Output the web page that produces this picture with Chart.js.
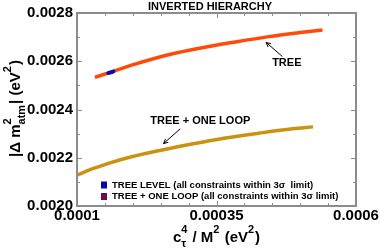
<!DOCTYPE html>
<html>
<head>
<meta charset="utf-8">
<script src="https://cdn.jsdelivr.net/npm/chart.js@4.4.0/dist/chart.umd.min.js"></script>
<style>
  html, body { margin: 0; padding: 0; background: #fff; }
  canvas { display: block; }
</style>
</head>
<body>
<canvas id="chart" width="380" height="248"></canvas>
<script>
// values
const treeX = [0.000132, 0.000159, 0.000204, 0.000264, 0.000324, 0.000384, 0.000444, 0.000504, 0.000540];
const treeY = [0.002533, 0.002554, 0.002588, 0.002627, 0.002656, 0.002680, 0.002702, 0.002720, 0.002730];
const loopX = [0.000100, 0.000126, 0.000156, 0.000186, 0.000246, 0.000306, 0.000366, 0.000426, 0.000486, 0.000523];
const loopY = [0.002128, 0.002153, 0.002176, 0.002197, 0.002229, 0.002257, 0.002282, 0.002302, 0.002320, 0.002328];
const treeLevelX = [0.000156, 0.000165];
const treeLevelY = [0.002551, 0.002557];
const loopLevelX = [];
const loopLevelY = [];

const xTickValues = [0.0001, 0.00035, 0.0006];
const xTickLabels = ['0.0001', '0.00035', '0.0006'];
const yTickValues = [0.0020, 0.0022, 0.0024, 0.0026, 0.0028];
const yTickLabels = ['0.0020', '0.0022', '0.0024', '0.0026', '0.0028'];
const xMinorStep = 0.00005;
const yMinorStep = 0.0001;

const FONT = '"Liberation Sans", Arial, Helvetica, sans-serif';
const AXIS_GRAY = '#8c8c8c';

function pts(xs, ys) {
  return xs.map((x, i) => ({ x: x, y: ys[i] }));
}
function labelFor(v, vals, labels) {
  const i = vals.findIndex(t => Math.abs(t - v) < 1e-9);
  return i < 0 ? '' : labels[i];
}
function stepTicks(scale, step, digits) {
  const out = [];
  for (let v = scale.min; v <= scale.max + step / 100; v += step) {
    out.push({ value: +v.toFixed(digits) });
  }
  scale.ticks = out;
}

// arrows + labels inside the plot, in data units
const notes = [
  { text: 'TREE', x: 0.000476, y: 0.002591, from: [0.000468, 0.0026195], to: [0.000439, 0.002678] },
  { text: 'TREE + ONE LOOP', x: 0.000321, y: 0.002353, from: [0.000285, 0.002320], to: [0.000255, 0.0022585] }
];

// draws text with super/subscripts; parts: plain strings or {sup, sub}
function drawRich(ctx, parts, cx, base, size) {
  const big = 'bold ' + size + 'px ' + FONT;
  const small = 'bold ' + Math.round(size * 0.72) + 'px ' + FONT;
  const widths = parts.map(p => {
    if (typeof p === 'string') { ctx.font = big; return ctx.measureText(p).width; }
    ctx.font = small;
    return Math.max(p.sup ? ctx.measureText(p.sup).width : 0, p.sub ? ctx.measureText(p.sub).width : 0) + 1;
  });
  let x = cx - widths.reduce((a, b) => a + b, 0) / 2;
  ctx.textAlign = 'left';
  ctx.textBaseline = 'alphabetic';
  parts.forEach((p, i) => {
    if (typeof p === 'string') {
      ctx.font = big;
      ctx.fillText(p, x, base);
    } else {
      ctx.font = small;
      if (p.sup) ctx.fillText(p.sup, x, base - size * 0.6);
      if (p.sub) ctx.fillText(p.sub, x, base + size * 0.35);
    }
    x += widths[i];
  });
}

const framePlugin = {
  id: 'frame',
  afterDraw(chart) {
    const ctx = chart.ctx;
    const a = chart.chartArea;
    const xs = chart.scales.x, ys = chart.scales.y;
    ctx.save();
    ctx.strokeStyle = AXIS_GRAY;
    ctx.lineWidth = 1;
    // inward ticks on all four sides
    xs.ticks.forEach(t => {
      const px = Math.round(xs.getPixelForValue(t.value)) + 0.5;
      const len = labelFor(t.value, xTickValues, xTickLabels) ? 5 : 3;
      ctx.beginPath();
      ctx.moveTo(px, a.bottom); ctx.lineTo(px, a.bottom - len);
      ctx.moveTo(px, a.top); ctx.lineTo(px, a.top + len);
      ctx.stroke();
    });
    ys.ticks.forEach(t => {
      const py = Math.round(ys.getPixelForValue(t.value)) + 0.5;
      const len = labelFor(t.value, yTickValues, yTickLabels) ? 5 : 3;
      ctx.beginPath();
      ctx.moveTo(a.left, py); ctx.lineTo(a.left + len, py);
      ctx.moveTo(a.right, py); ctx.lineTo(a.right - len, py);
      ctx.stroke();
    });
    ctx.lineWidth = 2;
    ctx.strokeRect(a.left, a.top, a.right - a.left, a.bottom - a.top);

    // title
    ctx.fillStyle = '#000';
    ctx.font = 'bold 11px ' + FONT;
    ctx.textAlign = 'center';
    ctx.textBaseline = 'alphabetic';
    ctx.fillText('INVERTED HIERARCHY', 210, 9.5);

    // curve labels with arrows
    notes.forEach(n => {
      ctx.font = 'bold 11px ' + FONT;
      ctx.textAlign = 'center';
      ctx.textBaseline = 'middle';
      ctx.fillText(n.text, xs.getPixelForValue(n.x), ys.getPixelForValue(n.y));
      const x1 = xs.getPixelForValue(n.from[0]), y1 = ys.getPixelForValue(n.from[1]);
      const x2 = xs.getPixelForValue(n.to[0]), y2 = ys.getPixelForValue(n.to[1]);
      const ang = Math.atan2(y2 - y1, x2 - x1);
      ctx.strokeStyle = '#000';
      ctx.lineWidth = 1;
      ctx.beginPath();
      ctx.moveTo(x1, y1); ctx.lineTo(x2, y2);
      ctx.moveTo(x2 - 5 * Math.cos(ang - 0.45), y2 - 5 * Math.sin(ang - 0.45));
      ctx.lineTo(x2, y2);
      ctx.lineTo(x2 - 5 * Math.cos(ang + 0.45), y2 - 5 * Math.sin(ang + 0.45));
      ctx.stroke();
    });

    // legend inside the plot
    chart.data.datasets.filter(d => d.legendText).forEach((d, i) => {
      const cy = a.bottom - 21 + i * 11.5;
      ctx.fillStyle = d.borderColor;
      ctx.fillRect(a.left + 24, cy - 3.5, 6, 7);
      ctx.fillStyle = '#000';
      ctx.font = 'bold 9.5px ' + FONT;
      ctx.textAlign = 'left';
      ctx.textBaseline = 'middle';
      ctx.fillText(d.legendText, a.left + 35, cy);
    });

    // axis titles
    ctx.fillStyle = '#000';
    drawRich(ctx, ['c', { sup: '4', sub: '\u03c4' }, ' / M', { sup: '2' }, ' (eV', { sup: '2' }, ')'], 216.5, 241.5, 15);
    ctx.translate(20, 108.5);
    ctx.rotate(-Math.PI / 2);
    drawRich(ctx, ['|\u0394 m', { sup: '2', sub: 'atm' }, '| (eV', { sup: '2' }, ')'], 0, 0, 15);
    ctx.restore();
  }
};

new Chart(document.getElementById('chart'), {
  type: 'line',
  data: {
    datasets: [
      { data: pts(treeLevelX, treeLevelY), borderColor: '#0a0aa8', borderWidth: 4, borderCapStyle: 'round',
        legendText: 'TREE LEVEL (all constraints within 3\u03c3  limit)' },
      { data: pts(loopLevelX, loopLevelY), borderColor: '#6b0c4f', borderWidth: 4,
        legendText: 'TREE + ONE LOOP (all constraints within 3\u03c3 limit)' },
      { data: pts(treeX, treeY), borderColor: '#ff4a0a', borderWidth: 3.5, tension: 0.4, cubicInterpolationMode: 'monotone' },
      { data: pts(loopX, loopY), borderColor: '#c9930f', borderWidth: 3.5, tension: 0.4, cubicInterpolationMode: 'monotone' }
    ]
  },
  options: {
    responsive: false,
    animation: false,
    devicePixelRatio: 1,
    layout: { padding: { top: 11, right: 24, left: 0, bottom: 0 } },
    elements: { point: { radius: 0 } },
    plugins: { legend: { display: false }, tooltip: { enabled: false } },
    scales: {
      x: {
        type: 'linear', min: 0.0001, max: 0.0006,
        afterBuildTicks: s => stepTicks(s, xMinorStep, 6),
        afterFit: s => { s.height = 42; },
        grid: { display: false, drawTicks: false },
        border: { display: false },
        ticks: {
          color: '#000', padding: 1, autoSkip: false, maxRotation: 0,
          font: { family: FONT, size: 15, weight: 'bold' },
          callback: v => labelFor(v, xTickValues, xTickLabels)
        }
      },
      y: {
        type: 'linear', min: 0.0020, max: 0.0028,
        afterBuildTicks: s => stepTicks(s, yMinorStep, 5),
        afterFit: s => { s.width = 77; },
        grid: { display: false, drawTicks: false },
        border: { display: false },
        ticks: {
          color: '#000', padding: 4, autoSkip: false,
          font: { family: FONT, size: 15, weight: 'bold' },
          callback: v => labelFor(v, yTickValues, yTickLabels)
        }
      }
    }
  },
  plugins: [framePlugin]
});
</script>
</body>
</html>
